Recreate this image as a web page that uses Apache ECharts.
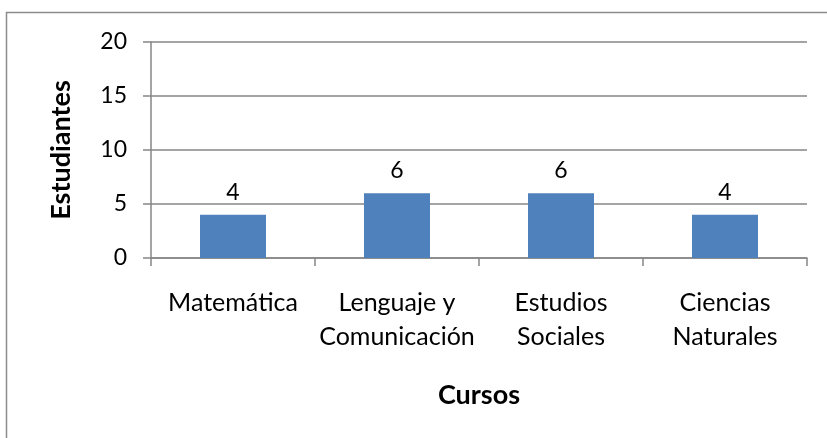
<!DOCTYPE html>
<html>
<head>
<meta charset="utf-8">
<script src="https://cdn.jsdelivr.net/npm/echarts@6/dist/echarts.min.js"></script>
<style>
html,body{margin:0;padding:0;background:#fff;}
#c{width:827px;height:438px;}
</style>
</head>
<body>
<div id="c"></div>
<script>
const categories = ['Matemática', 'Lenguaje y\nComunicación', 'Estudios\nSociales', 'Ciencias\nNaturales'];
const values = [4, 6, 6, 4];
const yTicks = [0, 5, 10, 15, 20];

const FONT = 'Lato';
const chart = echarts.init(document.getElementById('c'));
chart.setOption({
  animation: false,
  backgroundColor: '#fff',
  graphic: [{
    type: 'rect',
    shape: {x: 6.5, y: 12.5, width: 900, height: 600},
    style: {fill: 'none', stroke: '#8c8c8c', lineWidth: 1.5},
    silent: true
  }],
  grid: {left: 151, top: 42, right: 20, bottom: 180, containLabel: false},
  xAxis: {
    type: 'category',
    data: categories,
    name: 'Cursos',
    nameLocation: 'middle',
    nameGap: 124,
    nameTextStyle: {fontFamily: FONT, fontSize: 27, fontWeight: 'bold', color: '#000'},
    axisLine: {lineStyle: {color: '#868686', width: 1.5}},
    axisTick: {show: true, length: 8, lineStyle: {color: '#868686', width: 1.5}},
    axisLabel: {fontFamily: FONT, fontSize: 25, color: '#000', lineHeight: 34, margin: 28, interval: 0}
  },
  yAxis: {
    type: 'value',
    min: yTicks[0],
    max: yTicks[yTicks.length - 1],
    interval: 5,
    name: 'Estudiantes',
    nameLocation: 'middle',
    nameGap: 76,
    nameTextStyle: {fontFamily: FONT, fontSize: 27, fontWeight: 'bold', color: '#000'},
    axisLine: {show: true, lineStyle: {color: '#868686', width: 1.5}},
    axisTick: {show: true, length: 8, lineStyle: {color: '#868686', width: 1.5}},
    axisLabel: {fontFamily: FONT, fontSize: 23, color: '#000', margin: 24},
    splitLine: {lineStyle: {color: '#868686', width: 1.5}}
  },
  series: [{
    type: 'bar',
    data: values,
    barWidth: 66,
    itemStyle: {color: '#4f81bd'},
    label: {show: true, position: 'top', distance: 11, fontFamily: FONT, fontSize: 23, color: '#000'}
  }]
});
</script>
</body>
</html>
